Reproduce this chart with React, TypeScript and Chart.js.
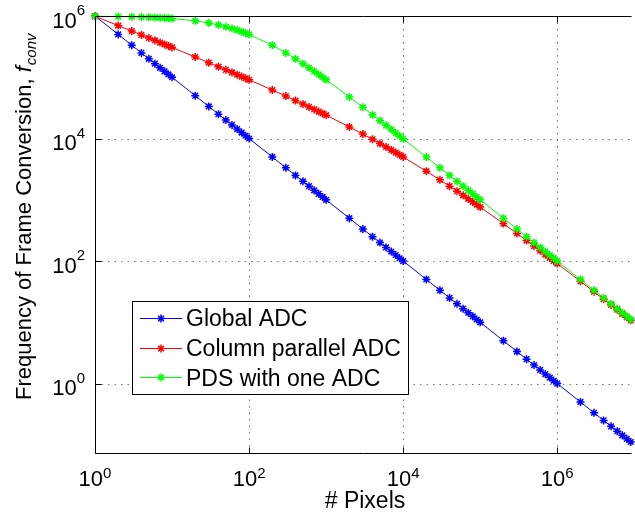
import React, { useEffect, useRef } from "react";
import { Chart, registerables } from "chart.js";

Chart.register(...registerables);

// ---------- data ----------
const pixels = [
  1, 2, 3, 4, 5, 6, 7, 8, 9, 10,
  20, 30, 40, 50, 60, 70, 80, 90, 100,
  200, 300, 400, 500, 600, 700, 800, 900, 1000,
  2000, 3000, 4000, 5000, 6000, 7000, 8000, 9000, 10000,
  20000, 30000, 40000, 50000, 60000, 70000, 80000, 90000, 100000,
  200000, 300000, 400000, 500000, 600000, 700000, 800000, 900000, 1000000,
  2000000, 3000000, 4000000, 5000000, 6000000, 7000000, 8000000, 9000000, 10000000,
];

const globalADC = [
  1000000, 500000, 333333, 250000, 200000, 166667, 142857, 125000, 111111, 100000,
  50000, 33333, 25000, 20000, 16667, 14286, 12500, 11111, 10000,
  5000, 3333, 2500, 2000, 1667, 1429, 1250, 1111, 1000,
  500, 333, 250, 200, 167, 143, 125, 111, 100,
  50, 33.3, 25, 20, 16.7, 14.3, 12.5, 11.1, 10,
  5, 3.33, 2.5, 2, 1.67, 1.43, 1.25, 1.11, 1,
  0.5, 0.333, 0.25, 0.2, 0.167, 0.143, 0.125, 0.111, 0.1,
];

const columnParallelADC = [
  990000, 697000, 567500, 490200, 437400, 398500, 368200, 343800, 323600, 306500,
  214000, 173100, 148700, 132100, 119800, 110300, 102600, 96300, 90900,
  61950, 49210, 41670, 36550, 32790, 29890, 27560, 25640, 24030,
  15450, 11800, 9686, 8284, 7275, 6508, 5902, 5409, 5000,
  2929, 2113, 1667, 1382, 1183, 1037, 923.5, 833.3, 759.7,
  408.6, 281.9, 215.9, 175.2, 147.6, 127.6, 112.4, 100.5, 90.9,
  46.7, 31.5, 23.8, 19.14, 16.01, 13.77, 12.07, 10.75, 9.69,
];

const pdsOneADC = [
  990100, 980400, 970900, 961500, 952400, 943400, 934600, 925900, 917400, 909100,
  833300, 769200, 714300, 666700, 625000, 588200, 555600, 526300, 500000,
  333300, 250000, 200000, 166700, 142900, 125000, 111100, 100000, 90910,
  47620, 32260, 24390, 19610, 16390, 14080, 12350, 10990, 9901,
  4975, 3322, 2494, 1996, 1664, 1427, 1248, 1110, 999,
  499.8, 333.2, 249.9, 200, 166.6, 142.8, 125, 111.1, 100,
  50, 33.3, 25, 20, 16.7, 14.3, 12.5, 11.1, 10,
];

const seriesNames = ["Global ADC", "Column parallel ADC", "PDS with one ADC"];
const seriesColors = ["#0000ff", "#ff0000", "#00ff00"];

const xTickExponents = [0, 2, 4, 6];
const yTickExponents = [0, 2, 4, 6];

const xAxisTitle = "# Pixels";
const yAxisTitleMain = "Frequency of Frame Conversion, ";
const yAxisTitleSym = "f";
const yAxisTitleSub = "conv";

const X_MIN = 1;
const X_MAX = Math.pow(10, 6.938);
const Y_MIN = Math.pow(10, -1.134);
const Y_MAX = 1e6;

const FONT = '"Liberation Sans", Arial, Helvetica, sans-serif';

function drawStar(ctx: CanvasRenderingContext2D, x: number, y: number, r: number, color: string) {
  const d = r * Math.SQRT1_2;
  ctx.save();
  ctx.strokeStyle = color;
  ctx.lineWidth = 1.5;
  ctx.beginPath();
  ctx.moveTo(x - r, y);
  ctx.lineTo(x + r, y);
  ctx.moveTo(x, y - r);
  ctx.lineTo(x, y + r);
  ctx.moveTo(x - d, y - d);
  ctx.lineTo(x + d, y + d);
  ctx.moveTo(x - d, y + d);
  ctx.lineTo(x + d, y - d);
  ctx.stroke();
  ctx.restore();
}

const decorPlugin = {
  id: "decor",
  beforeDatasetsDraw(chart: any) {
    const { ctx, chartArea, scales } = chart;
    const { left, right, top, bottom } = chartArea;
    const xs = scales.x;
    const ys = scales.y;
    ctx.save();
    ctx.strokeStyle = "#6f6f6f";
    ctx.lineWidth = 1;
    ctx.setLineDash([1.5, 5]);
    for (const e of xTickExponents) {
      if (e === 0) continue;
      const X = Math.round(xs.getPixelForValue(Math.pow(10, e))) + 0.5;
      ctx.beginPath();
      ctx.moveTo(X, top);
      ctx.lineTo(X, bottom);
      ctx.stroke();
    }
    for (const e of yTickExponents) {
      if (e === 6) continue;
      const Y = Math.round(ys.getPixelForValue(Math.pow(10, e))) + 0.5;
      ctx.beginPath();
      ctx.moveTo(left, Y);
      ctx.lineTo(right, Y);
      ctx.stroke();
    }
    ctx.restore();
  },
  afterDatasetsDraw(chart: any) {
    const { ctx, chartArea, scales } = chart;
    const { left, right, top, bottom } = chartArea;
    const xs = scales.x;
    const ys = scales.y;
    ctx.save();
    ctx.setLineDash([]);
    ctx.strokeStyle = "#000";
    ctx.lineWidth = 1;
    const L = Math.round(left) + 0.5;
    const B = Math.round(bottom) + 0.5;
    const T = Math.round(top) + 0.5;
    ctx.beginPath();
    ctx.moveTo(L, T);
    ctx.lineTo(right + 2, T);
    ctx.moveTo(L, T);
    ctx.lineTo(L, B);
    ctx.lineTo(right + 2, B);
    ctx.stroke();

    // ticks
    const tl = 6;
    ctx.beginPath();
    for (const e of xTickExponents) {
      const X = Math.round(xs.getPixelForValue(Math.pow(10, e))) + 0.5;
      ctx.moveTo(X, B);
      ctx.lineTo(X, B - tl);
      ctx.moveTo(X, T);
      ctx.lineTo(X, T + tl);
    }
    for (const e of yTickExponents) {
      const Y = Math.round(ys.getPixelForValue(Math.pow(10, e))) + 0.5;
      ctx.moveTo(L, Y);
      ctx.lineTo(L + tl, Y);
    }
    ctx.stroke();

    // tick labels
    ctx.fillStyle = "#000";
    ctx.textBaseline = "alphabetic";
    ctx.textAlign = "left";
    const baseFont = `22px ${FONT}`;
    const supFont = `15px ${FONT}`;
    for (const e of xTickExponents) {
      const X = xs.getPixelForValue(Math.pow(10, e));
      ctx.font = baseFont;
      const w1 = ctx.measureText("10").width;
      ctx.font = supFont;
      const w2 = ctx.measureText(String(e)).width;
      const start = X - (w1 + w2) / 2;
      ctx.font = baseFont;
      ctx.fillText("10", start, 486);
      ctx.font = supFont;
      ctx.fillText(String(e), start + w1, 477.5);
    }
    for (const e of yTickExponents) {
      const Y = ys.getPixelForValue(Math.pow(10, e));
      ctx.font = supFont;
      const w2 = ctx.measureText(String(e)).width;
      ctx.font = baseFont;
      const w1 = ctx.measureText("10").width;
      const end = 85;
      ctx.fillText("10", end - w2 - w1, Y + 11.7);
      ctx.font = supFont;
      ctx.fillText(String(e), end - w2, Y - 1);
    }

    // x title
    ctx.font = `23px ${FONT}`;
    ctx.textAlign = "center";
    ctx.fillText(xAxisTitle, 365, 508);

    // y title
    ctx.save();
    ctx.translate(31, 400);
    ctx.rotate(-Math.PI / 2);
    ctx.textAlign = "left";
    ctx.font = baseFont;
    let pos = 0;
    ctx.fillText(yAxisTitleMain, pos, 0);
    pos += ctx.measureText(yAxisTitleMain).width;
    ctx.font = `italic 22px ${FONT}`;
    ctx.fillText(yAxisTitleSym, pos, 0);
    pos += ctx.measureText(yAxisTitleSym).width + 1;
    ctx.font = `italic 15px ${FONT}`;
    ctx.fillText(yAxisTitleSub, pos, 5);
    ctx.restore();

    // legend
    const bx = 132.5, by = 301.5, bw = 276, bh = 93;
    ctx.fillStyle = "#fff";
    ctx.fillRect(bx, by, bw, bh);
    ctx.strokeStyle = "#000";
    ctx.lineWidth = 1;
    ctx.strokeRect(bx, by, bw, bh);
    const rows = [317.5, 347.5, 377];
    for (let i = 0; i < seriesNames.length; i++) {
      const ry = Math.round(rows[i]) + 0.5;
      ctx.strokeStyle = seriesColors[i];
      ctx.lineWidth = 1;
      ctx.beginPath();
      ctx.moveTo(140, ry);
      ctx.lineTo(182, ry);
      ctx.stroke();
      drawStar(ctx, 161, ry, 4, seriesColors[i]);
      ctx.fillStyle = "#000";
      ctx.font = `23px ${FONT}`;
      ctx.textAlign = "left";
      ctx.fillText(seriesNames[i], 186, rows[i] + 8.5);
    }
    ctx.restore();
  },
};

export default function App() {
  const canvasRef = useRef<HTMLCanvasElement | null>(null);

  useEffect(() => {
    if (!canvasRef.current) return;
    const series = [globalADC, columnParallelADC, pdsOneADC];
    const datasets = series.map((vals, i) => ({
      label: seriesNames[i],
      data: pixels.map((n, j) => ({ x: n, y: vals[j] })),
      borderColor: seriesColors[i],
      backgroundColor: seriesColors[i],
      borderWidth: 1,
      pointStyle: "star" as const,
      pointRadius: 4,
      pointBorderWidth: 1.5,
      pointBorderColor: seriesColors[i],
      pointBackgroundColor: seriesColors[i],
      tension: 0,
      clip: false as any,
      order: 2 - i,
    }));
    const chart = new Chart(canvasRef.current, {
      type: "line",
      data: { datasets },
      options: {
        animation: false,
        responsive: true,
        maintainAspectRatio: false,
        layout: { padding: { left: 95, top: 16, right: 0, bottom: 64 } },
        plugins: { legend: { display: false }, tooltip: { enabled: false } },
        scales: {
          x: { type: "logarithmic", min: X_MIN, max: X_MAX, display: false },
          y: { type: "logarithmic", min: Y_MIN, max: Y_MAX, display: false },
        },
      },
      plugins: [decorPlugin],
    });
    return () => chart.destroy();
  }, []);

  return (
    <div style={{ position: "fixed", left: 0, top: 0, width: 635, height: 517, background: "#fff" }}>
      <canvas ref={canvasRef} />
    </div>
  );
}
